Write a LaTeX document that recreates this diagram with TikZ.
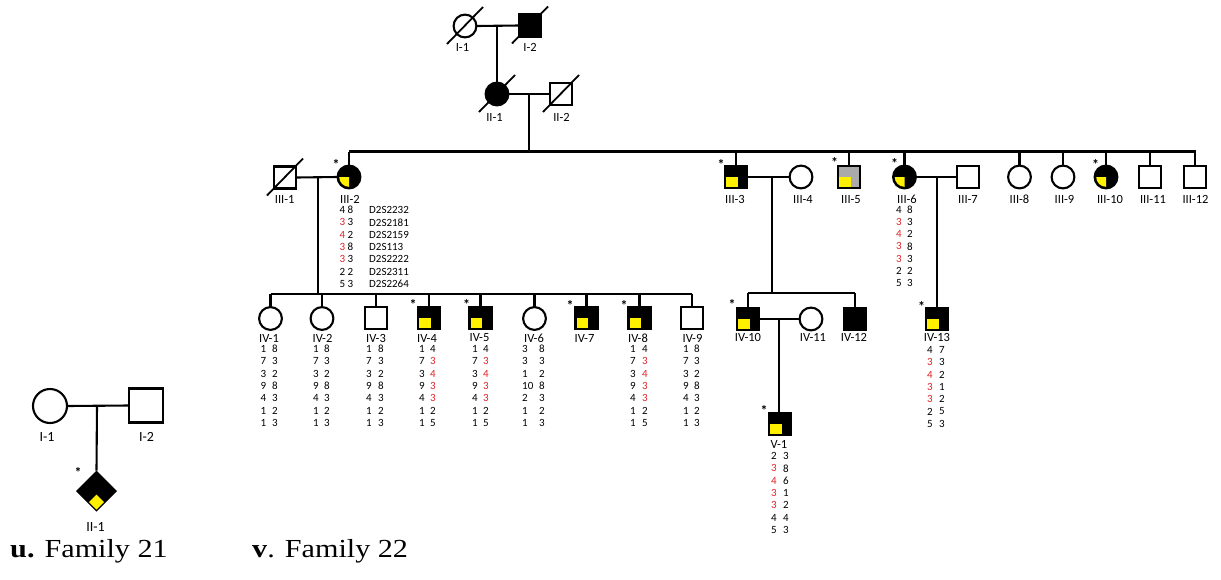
\documentclass[tikz,border=0pt]{standalone}
\usepackage{fontspec}
\setmainfont{Carlito}
\newfontfamily\timesf{Liberation Serif}
\usetikzlibrary{shapes.geometric}
\definecolor{alred}{RGB}{225,35,40}
\definecolor{affy}{RGB}{255,240,0}
\definecolor{carr}{RGB}{170,170,170}
\newcommand\R[1]{\textcolor{alred}{#1}}
\tikzset{
  ln/.style={line width=2.1pt},
  msq/.style={draw, line width=2.1pt, rectangle, minimum size=22pt, inner sep=0pt, outer sep=0pt, fill=white},
  fci/.style={draw, line width=2.1pt, circle, minimum size=22.8pt, inner sep=0pt, outer sep=0pt, fill=white},
  bigsq/.style={msq, minimum size=34pt},
  bigci/.style={fci, minimum size=34pt},
  affd/.style={fill=black},
  carrier/.style={fill=carr},
  lab/.style={font=\fontsize{12.5}{12}\selectfont, inner sep=0pt},
  biglab/.style={font=\fontsize{14}{14}\selectfont, inner sep=0pt},
  al/.style={font=\fontsize{11}{12}\selectfont, inner sep=0pt},
  ast/.style={font=\bfseries\fontsize{14}{14}\selectfont, inner sep=0pt, anchor=north},
  fam/.style={font=\timesf\fontsize{26}{26}\selectfont, inner sep=0pt, anchor=base west, xscale=1.16},
  slash/.style={line width=1.8pt},
}
% yellow quarter in a square node
\newcommand\ysq[1]{\fill[affy] ([shift={(-9.8,-0.5)}]#1.center) rectangle ([shift={(1.5,9.8)}]#1.center);}
% yellow quarter in a circle node
\newcommand\yci[1]{\fill[affy] (#1.center) -- ++(-9.8,0) arc[start angle=180, end angle=90, radius=9.8] -- cycle;}
% deceased slash
\newcommand\dslash[1]{\draw[slash] ([shift={(-18,18)}]#1.center) -- ([shift={(18,-19)}]#1.center);}
% allele table: name, x left, x right, y first row, list
\newcommand\alle[5]{%
  \foreach \a/\b [count=\i] in {#5} {
    \node[al] (#1l\i) at (#2, {#4+12.3*(\i-1)}) {\a};
    \node[al] (#1r\i) at (#3, {#4+12.3*(\i-1)}) {\b};
  }}
\begin{document}
\begin{tikzpicture}[x=1pt,y=-1pt]
\useasboundingbox (0,0) rectangle (1221,579);

%%%%%%%%%%%%%%%% Family 21
\node[bigci] (aI1) at (50,406) {};
\node[bigsq] (aI2) at (146,405.5) {};
\node[diamond, fill=black, minimum size=41pt, inner sep=0pt, outer sep=0pt] (aII1) at (96.5,491) {};
\fill[affy] ([shift={(0,3.5)}]aII1.center) -- ++(7.5,7.5) -- ++(-7.5,7.5) -- ++(-7.5,-7.5) -- cycle;
\coordinate (am) at (97,405.5);
\draw[ln] (aI1.east) -- (aI2.west);
\draw[ln] (am) -- (aII1.north);
\node[biglab] (laI1) at (47,436.5) {I-1};
\node[biglab] (laI2) at (146.5,436.5) {I-2};
\node[biglab] (laII1) at (95.5,527) {II-1};
\node[ast] (saII1) at (78,467.5) {*};
\node[fam] (famu) at (10,557) {\textbf{u.} Family 21};
\node[fam] (famv) at (252,557) {\textbf{v}. Family 22};

%%%%%%%%%%%%%%%% Family 22
% Gen I
\node[fci] (I1) at (465,26) {};
\node[msq, affd] (I2) at (530,25.5) {};
\dslash{I1}\dslash{I2}
\draw[ln] (I1.east) -- (I2.west);
\coordinate (m1) at (497,25.5);
% Gen II
\node[fci, affd] (II1) at (497,94) {};
\node[msq] (II2) at (561,94) {};
\dslash{II1}\dslash{II2}
\draw[ln] (m1) -- (II1.north);
\draw[ln] (II1.east) -- (II2.west);
\coordinate (m2) at (529,94);
\node[lab] (lI1) at (462.5,47.5) {I-1};
\node[lab] (lI2) at (530,47.5) {I-2};
\node[lab] (lII1) at (494.5,117) {II-1};
\node[lab] (lII2) at (561.5,117) {II-2};

% Gen III
\coordinate (sA) at (349,151.5);
\coordinate (sB) at (1196,151.5);
\draw[ln] (sA) -- (sB);
\draw[ln] (m2) -- (m2 |- sA);

\node[msq] (III1) at (285,177.5) {};
\dslash{III1}
\node[fci, affd] (III2) at (349,177) {}; \yci{III2}
\node[msq, affd] (III3) at (736,177) {}; \ysq{III3}
\node[fci] (III4) at (801,177) {};
\node[msq, carrier] (III5) at (849,177) {}; \ysq{III5}
\node[fci, affd] (III6) at (904.5,177) {}; \yci{III6}
\node[msq] (III7) at (968,177) {};
\node[fci] (III8) at (1019.5,177) {};
\node[fci] (III9) at (1063,177) {};
\node[fci, affd] (III10) at (1106,177) {}; \yci{III10}
\node[msq] (III11) at (1150,177) {};
\node[msq] (III12) at (1195,177) {};
\foreach \n in {III2,III3,III5,III6,III8,III9,III10,III11,III12}
  \draw[ln] (\n.north) -- (\n.north |- sA);

\draw[ln] (III1.east) -- (III2.west);
\draw[ln] (III3.east) -- (III4.west);
\draw[ln] (III6.east) -- (III7.west);

\node[lab] (lIII1) at (284.7,199.5) {III-1};
\node[lab] (lIII2) at (350,199.5) {III-2};
\node[lab] (lIII3) at (735,199.5) {III-3};
\node[lab] (lIII4) at (803,199.5) {III-4};
\node[lab] (lIII5) at (851,199.5) {III-5};
\node[lab] (lIII6) at (907,199.5) {III-6};
\node[lab] (lIII7) at (968,199.5) {III-7};
\node[lab] (lIII8) at (1019.5,199.5) {III-8};
\node[lab] (lIII9) at (1064.5,199.5) {III-9};
\node[lab] (lIII10) at (1110,199.5) {III-10};
\node[lab] (lIII11) at (1153,199.5) {III-11};
\node[lab] (lIII12) at (1195.5,199.5) {III-12};

\node[ast] (sIII2) at (336,159) {*};
\node[ast] (sIII3) at (721,159) {*};
\node[ast] (sIII5) at (834.5,157.5) {*};
\node[ast] (sIII6) at (894.5,158.5) {*};
\node[ast] (sIII10) at (1095.7,159) {*};

% allele tables gen III
\alle{aIII2}{342.3}{350.3}{210}{4/8,\R{3}/3,\R{4}/2,\R{3}/8,\R{3}/3,2/2,5/3}
\foreach \m [count=\i] in {D2S2232,D2S2181,D2S2159,D2S113,D2S2222,D2S2311,D2S2264}
  \node[al, anchor=west] (mk\i) at (369, {210+12.3*(\i-1)}) {\m};
\alle{aIII6}{899}{910}{209.5}{4/8,\R{3}/3,\R{4}/2,\R{3}/8,\R{3}/3,2/2,5/3}

% Gen IV left sibship
\coordinate (m3) at (318,177.5);
\coordinate (sC) at (270.5,294);
\coordinate (sD) at (692,294);
\draw[ln] (m3) -- (m3 |- sC);
\draw[ln] (sC) -- (sD);

\node[fci] (IV1) at (270.5,318.5) {};
\node[fci] (IV2) at (322,318.5) {};
\node[msq] (IV3) at (376,318) {};
\node[msq, affd] (IV4) at (429,318) {}; \ysq{IV4}
\node[msq, affd] (IV5) at (480.5,318) {}; \ysq{IV5}
\node[fci] (IV6) at (534.5,318.5) {};
\node[msq, affd] (IV7) at (586.5,318) {}; \ysq{IV7}
\node[msq, affd] (IV8) at (639.5,318) {}; \ysq{IV8}
\node[msq] (IV9) at (692,318) {};
\foreach \n in {IV1,IV2,IV3,IV4,IV5,IV6,IV7,IV8,IV9}
  \draw[ln] (\n.north) -- (\n.north |- sC);

\node[lab] (lIV1) at (269,338) {IV-1};
\node[lab] (lIV2) at (322.5,338) {IV-2};
\node[lab] (lIV3) at (376,338) {IV-3};
\node[lab] (lIV4) at (427,338) {IV-4};
\node[lab] (lIV5) at (479.5,338) {IV-5};
\node[lab] (lIV6) at (534,338) {IV-6};
\node[lab] (lIV7) at (584.5,338) {IV-7};
\node[lab] (lIV8) at (638,338) {IV-8};
\node[lab] (lIV9) at (692.5,338) {IV-9};

\node[ast] (sIV4) at (413,299) {*};
\node[ast] (sIV5) at (466.7,299) {*};
\node[ast] (sIV7) at (570,300) {*};
\node[ast] (sIV8) at (624,300) {*};

\alle{aIV1}{263.3}{275}{349}{1/8,7/3,3/2,9/8,4/3,1/2,1/3}
\alle{aIV2}{316}{327}{349}{1/8,7/3,3/2,9/8,4/3,1/2,1/3}
\alle{aIV3}{369}{381}{349}{1/8,7/3,3/2,9/8,4/3,1/2,1/3}
\alle{aIV4}{422}{433}{349}{1/4,7/\R{3},3/\R{4},9/\R{3},4/\R{3},1/2,1/5}
\alle{aIV5}{475}{486}{349}{1/4,7/\R{3},3/\R{4},9/\R{3},4/\R{3},1/2,1/5}
\foreach \a/\b [count=\i] in {3/8,3/3,1/2,10/8,2/3,1/2,1/3} {
  \node[al, anchor=west] (aIV6l\i) at (522, {349+12.3*(\i-1)}) {\a};
  \node[al] (aIV6r\i) at (542, {349+12.3*(\i-1)}) {\b};
}
\alle{aIV8}{633}{645}{349}{1/4,7/\R{3},3/\R{4},9/\R{3},4/\R{3},1/2,1/5}
\alle{aIV9}{686}{697}{349}{1/8,7/3,3/2,9/8,4/3,1/2,1/3}

% Gen IV right
\coordinate (m4) at (772,177);
\coordinate (sE) at (748,293);
\coordinate (sF) at (855,293);
\draw[ln] (m4) -- (m4 |- sE);
\draw[ln] (sE) -- (sF);
\node[msq, affd] (IV10) at (748,319) {}; \ysq{IV10}
\node[fci] (IV11) at (811,319) {};
\node[msq, affd] (IV12) at (855,319) {};
\draw[ln] (IV10.north) -- (IV10.north |- sE);
\draw[ln] (IV12.north) -- (IV12.north |- sE);
\draw[ln] (IV10.east) -- (IV11.west);

\coordinate (m5) at (937,177);
\node[msq, affd] (IV13) at (937,319) {}; \ysq{IV13}
\draw[ln] (m5) -- (IV13.north);

\node[lab] (lIV10) at (748,337.5) {IV-10};
\node[lab] (lIV11) at (813,337.5) {IV-11};
\node[lab] (lIV12) at (854,337.5) {IV-12};
\node[lab] (lIV13) at (937,337.5) {IV-13};
\node[ast] (sIV10) at (732,299) {*};
\node[ast] (sIV13) at (921.7,301) {*};

\alle{aIV13}{930}{942}{350}{4/7,\R{3}/3,\R{4}/2,\R{3}/1,\R{3}/2,2/5,5/3}

% Gen V
\coordinate (m6) at (779,319);
\node[msq, affd] (V1) at (780,424) {}; \ysq{V1}
\draw[ln] (m6) -- (m6 |- V1.north);
\node[lab] (lV1) at (779,444) {V-1};
\node[ast] (sV1) at (764,405) {*};
\alle{aV1}{774}{786}{456}{2/3,\R{3}/8,\R{4}/6,\R{3}/1,\R{3}/2,4/4,5/3}
\end{tikzpicture}
\end{document}
